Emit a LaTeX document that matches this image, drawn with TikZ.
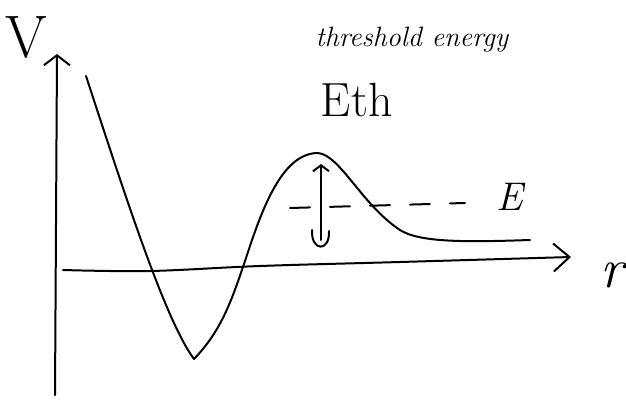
\documentclass[tikz,border=0pt]{standalone}
\usetikzlibrary{arrows.meta}
\tikzset{pen/.style={line width=1pt,line cap=round,line join=round},axis/.style={pen,-{Straight Barb[length=5pt,width=13pt,line width=1pt]}},hand/.style={inner sep=0pt}}

\begin{document}
\begin{tikzpicture}[x=0.5pt,y=-0.5pt]
\useasboundingbox (0,0) rectangle (626,401);
% axes
\coordinate (vbot) at (55,395); \coordinate (vtop) at (57,54);
\coordinate (rstart) at (63,270); \coordinate (rtip) at (571,257);
\draw[axis] (vbot)--(vtop);
\draw[axis,-{Straight Barb[length=8pt,width=14pt,line width=1pt]}] plot[smooth,tension=0.6] coordinates {(rstart) (150,271) (260,266) (400,262) (rtip)};
\node[hand,font=\fontsize{30}{30}\selectfont] (vlab) at (26,37) {V};
\node[hand,font=\fontsize{28}{28}\selectfont\itshape] (rlab) at (612,275) {r};
% potential curve
\draw[pen] (86,76) .. controls (125,195) and (165,320) .. (194,359);
\draw[pen] (194,359) .. controls (222,330) and (232,300) .. (248,252)
  .. controls (265,200) and (285,153) .. (318,153)
  .. controls (340,155) and (362,205) .. (400,230)
  .. controls (420,243) and (470,242) .. (530,240);
% energy level
\coordinate (estart) at (290,208); \coordinate (eend) at (465,203);
\draw[pen,dash pattern=on 10pt off 10pt] (estart)--(eend);
\node[hand,font=\fontsize{20}{20}\selectfont\itshape] (elab) at (510,197) {E};
% tunnelling arrow
\coordinate (ubot) at (321,240); \coordinate (utop) at (321,164);
\draw[pen,-{Straight Barb[length=3pt,width=8pt,line width=1pt]}] (ubot)--(utop);
\draw[pen] (312,230) .. controls (311,252) and (330,252) .. (329,231);
% labels
\node[hand,font=\fontsize{14}{14}\selectfont\itshape] (thlab) at (412,40) {threshold energy};
\node[hand,font=\fontsize{24}{24}\selectfont] (ethlab) at (357,100) {E\kern0.5pt th};
\end{tikzpicture}
\end{document}
